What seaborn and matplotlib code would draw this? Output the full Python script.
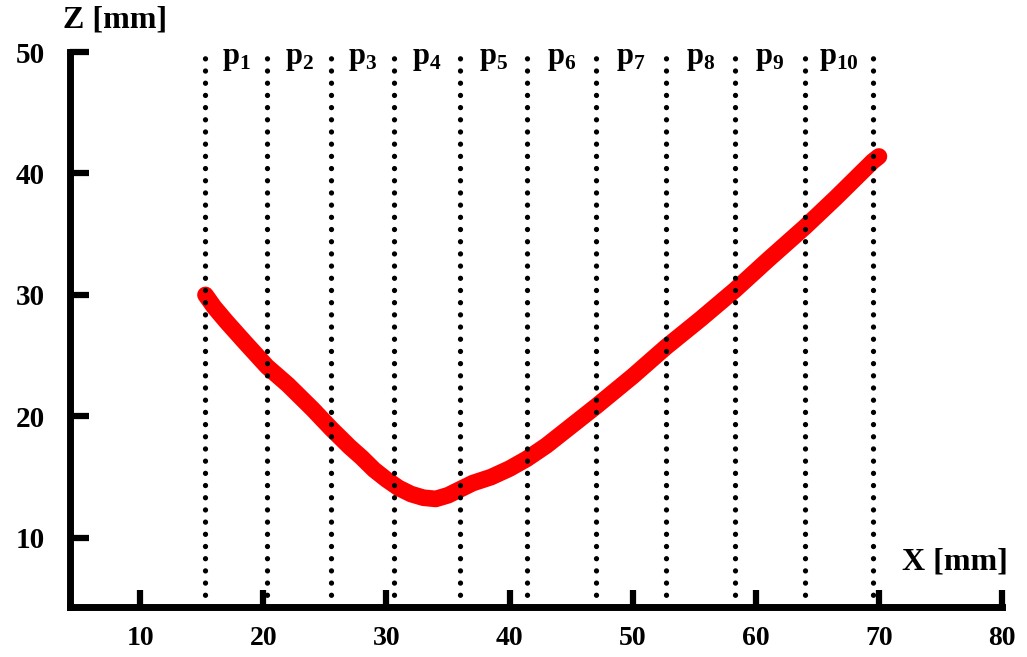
import matplotlib
matplotlib.use("Agg")
import matplotlib.pyplot as plt
import seaborn as sns
import pandas as pd

# Measured profile of the surface (X vs Z, in mm)
x_mm = [15.3, 16.0, 17.0, 18.5, 20.3, 22.0, 24.0, 25.5, 27.0, 28.0, 29.0,
        30.0, 31.0, 32.0, 33.0, 34.0, 35.0, 36.0, 37.0, 38.5, 40.0, 41.4,
        43.0, 44.5, 47.0, 50.0, 52.7, 55.5, 58.3, 61.0, 64.0, 66.5, 69.5,
        70.0]
z_mm = [30.0, 29.0, 27.8, 26.1, 24.1, 22.6, 20.6, 19.0, 17.5, 16.6, 15.6,
        14.8, 14.1, 13.6, 13.3, 13.2, 13.5, 14.0, 14.5, 15.0, 15.7, 16.5,
        17.6, 18.8, 20.8, 23.3, 25.7, 28.0, 30.4, 32.9, 35.6, 38.0, 41.0,
        41.4]

# Boundaries of the ten segments p1..p10
boundaries = [15.3, 20.3, 25.5, 30.6, 36.0, 41.4, 47.0, 52.7, 58.3, 64.0, 69.5]
segment_ids = ["1", "2", "3", "4", "5", "6", "7", "8", "9", "10"]

x_ticks = [10, 20, 30, 40, 50, 60, 70, 80]
z_ticks = [10, 20, 30, 40, 50]

sns.set_theme(style="white")
plt.rcParams["font.family"] = ["Liberation Serif", "DejaVu Serif"]
plt.rcParams["font.weight"] = "bold"
plt.rcParams["text.color"] = "black"
plt.rcParams["mathtext.fontset"] = "custom"
plt.rcParams["mathtext.bf"] = "Liberation Serif:bold"
plt.rcParams["mathtext.rm"] = "Liberation Serif:bold"

fig = plt.figure(figsize=(10.27, 6.57), dpi=100)
ax = fig.add_axes([0.0682, 0.0761, 0.9075, 0.8447])

df = pd.DataFrame({"x": x_mm, "z": z_mm})
sns.lineplot(data=df, x="x", y="z", sort=False, color="#ff0000", lw=12,
             solid_capstyle="round", solid_joinstyle="round", ax=ax, zorder=2)

x_lo, z_lo, z_hi = 4.3, 4.3, 50.0
ax.set_xlim(x_lo, 80)
ax.set_ylim(z_lo, z_hi)

# dotted segment boundaries
ax.vlines(boundaries, z_lo, z_hi + 0.35, colors="black", linewidth=3.8,
          linestyles=(0, (0.01, 2.3)), capstyle="round", zorder=3,
          clip_on=False)

for i, sid in enumerate(segment_ids):
    xc = (boundaries[i] + boundaries[i + 1]) / 2
    ax.text(xc, 49.5, r"$\mathbf{p}_{\mathbf{%s}}$" % sid, ha="center",
            va="center", fontsize=22, color="black")

ax.set_xticks(x_ticks)
ax.set_yticks(z_ticks)
ax.set_xlabel("")
ax.set_ylabel("")

for side in ("top", "right"):
    ax.spines[side].set_visible(False)
for side in ("left", "bottom"):
    ax.spines[side].set_linewidth(5)
    ax.spines[side].set_color("black")

ax.tick_params(axis="y", left=True, direction="in", length=14, width=4.5,
               color="black", pad=18, labelsize=21, labelcolor="black")
ax.tick_params(axis="x", bottom=True, direction="in", length=12, width=4.5,
               color="black", pad=14, labelsize=20, labelcolor="black")

fig.text(63 / 1027, 1 - 20 / 657, "Z [mm]", ha="left", va="center",
         fontsize=23, fontweight="bold", color="black")
fig.text(1008 / 1027, 1 - 562 / 657, "X [mm]", ha="right", va="center",
         fontsize=23, fontweight="bold", color="black")

fig.savefig("out.png", dpi=100)
